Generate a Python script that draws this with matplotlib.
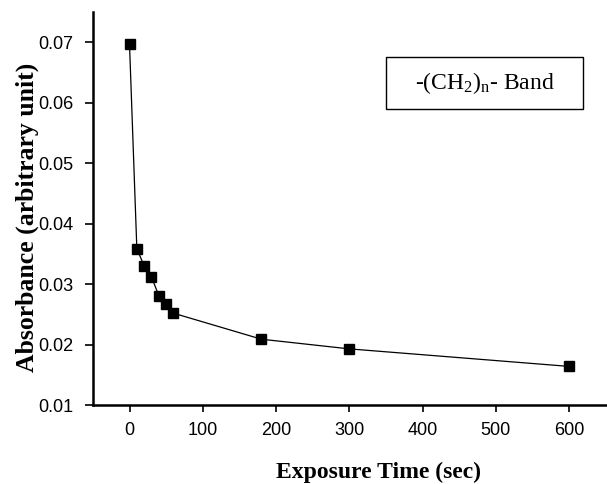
import matplotlib
matplotlib.use("Agg")
from matplotlib import pyplot as plt
from matplotlib.patches import Rectangle

plt.rcParams['mathtext.fontset'] = 'custom'
plt.rcParams['mathtext.rm'] = 'Liberation Serif'
plt.rcParams['mathtext.it'] = 'Liberation Serif:italic'

# data
time_sec = [0, 10, 20, 30, 40, 50, 60, 180, 300, 600]
absorbance = [0.0697, 0.0359, 0.0330, 0.0312, 0.0281, 0.0268, 0.0252, 0.0209, 0.0193, 0.0164]

x_ticks = [0, 100, 200, 300, 400, 500, 600]
y_ticks = [0.01, 0.02, 0.03, 0.04, 0.05, 0.06, 0.07]

fig = plt.figure(figsize=(6.07, 4.84), dpi=100)
ax = fig.add_axes([0.153, 0.163, 0.845, 0.812])

ax.plot(time_sec, absorbance, color='black', linewidth=0.9,
        marker='s', markersize=6.5, markerfacecolor='black', markeredgecolor='black')

ax.set_xlim(-50, 650)
ax.set_ylim(0.01, 0.075)
ax.set_xticks(x_ticks)
ax.set_yticks(y_ticks)
ax.set_yticklabels([f"{v:.2f}" for v in y_ticks])

for side in ['top', 'right']:
    ax.spines[side].set_visible(False)
for side in ['left', 'bottom']:
    ax.spines[side].set_linewidth(1.8)

ax.tick_params(direction='out', width=1.2, labelsize=13)
ax.tick_params(axis='x', length=5, pad=7)
ax.tick_params(axis='y', length=6, pad=8)
for lab in ax.get_xticklabels() + ax.get_yticklabels():
    lab.set_fontfamily('Liberation Sans')

fig.text(379 / 607, 1 - 472 / 484, "Exposure Time (sec)", ha='center', va='center',
         fontfamily='Liberation Serif', fontweight='bold', fontsize=17)
fig.text(27 / 607, 1 - 217 / 484, "Absorbance (arbitrary unit)", ha='center', va='center',
         rotation=90, fontfamily='Liberation Serif', fontweight='bold', fontsize=18.5)

# label box
fig.patches.append(Rectangle((386 / 607, 1 - 109 / 484), 197 / 607, 52 / 484,
                             transform=fig.transFigure, facecolor='white',
                             edgecolor='black', linewidth=1))
fig.text(485 / 607, 1 - 83 / 484, r"-(CH$_2$)$_\mathrm{n}$- Band", ha='center', va='center',
         fontfamily='Liberation Serif', fontsize=17)

fig.savefig("out.png", dpi=100)
